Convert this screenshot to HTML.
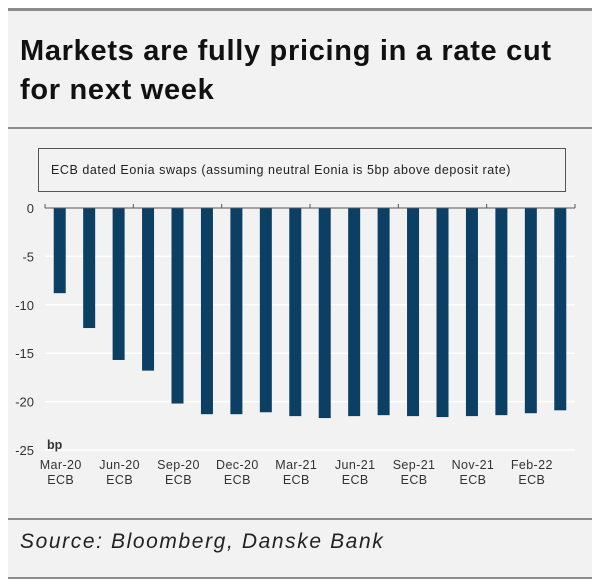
<!DOCTYPE html>
<html><head><meta charset="utf-8"><style>
body{margin:0;background:#fff;width:600px;height:587px;position:relative;font-family:"Liberation Sans",sans-serif;overflow:hidden}
#panel{position:absolute;left:8px;top:8px;width:584px;height:571px;background:#f2f2f2}
.hl{position:absolute;left:8px;width:584px;background:#8c8c8c}
#title{position:absolute;left:20px;top:32px;font-size:29px;line-height:39px;color:#111;font-weight:bold;letter-spacing:0.7px}
#box{position:absolute;left:38px;top:148px;width:528px;height:44px;border:1px solid #555;box-sizing:border-box;font-size:12.5px;line-height:42px;padding-left:12px;color:#222;letter-spacing:0.55px}
#src{position:absolute;left:20px;top:530px;font-size:21px;font-style:italic;color:#222;letter-spacing:1.6px}
</style></head><body>
<div id="panel"></div>
<div class="hl" style="top:8px;height:3px"></div>
<div class="hl" style="top:127px;height:2px"></div>
<div class="hl" style="top:518px;height:2px"></div>
<div class="hl" style="top:577px;height:2px"></div>
<div id="title">Markets are fully pricing in a rate cut<br>for next week</div>
<div id="box">ECB dated Eonia swaps (assuming neutral Eonia is 5bp above deposit rate)</div>
<div id="src">Source: Bloomberg, Danske Bank</div>
<svg id="chart" width="600" height="587" style="position:absolute;left:0;top:0"></svg>
<script>
const categories=["Mar-20","","Jun-20","","Sep-20","","Dec-20","","Mar-21","","Jun-21","","Sep-21","","Nov-21","","Feb-22",""];
const values=[-8.8,-12.4,-15.7,-16.8,-20.2,-21.3,-21.3,-21.1,-21.5,-21.7,-21.5,-21.4,-21.5,-21.6,-21.5,-21.4,-21.2,-20.9];
const yTicks=[0,-5,-10,-15,-20,-25];
const NS="http://www.w3.org/2000/svg",svg=document.getElementById('chart');
const x0=45,x1=575,y0=208,y1=450,band=(x1-x0)/values.length;
const y=v=>y0+(0-v)/25*(y1-y0);
const xc=i=>x0+band*(i+0.5);
function mk(t,a){const e=document.createElementNS(NS,t);for(const k in a)e.setAttribute(k,a[k]);svg.appendChild(e);return e;}
yTicks.forEach(t=>{
 if(t!==0){const g=mk('line',{x1:x0,x2:x1,y1:y(t),y2:y(t),stroke:'#fff','stroke-width':1.5});
 
 }
 const l=mk('text',{x:34,y:y(t)+5,'text-anchor':'end','font-size':13,fill:'#333','font-family':'Liberation Sans'});
 l.textContent=t;
 
 
});
values.forEach((v,i)=>{
 const r=mk('rect',{x:xc(i)-6,y:y0,width:12,height:y(v)-y0,fill:'#0b3f63'});
 
 
 if(categories[i]){
  [categories[i],'ECB'].forEach((s,k)=>{const t=mk('text',{x:xc(i)+1,y:469+k*15,'text-anchor':'middle','font-size':12.5,fill:'#333','font-family':'Liberation Sans','letter-spacing':0.4});
  t.textContent=s;
  
  });
 }
});
const ax=mk('line',{x1:x0,x2:x1,y1:y0,y2:y0,stroke:'#555','stroke-width':1});


for(let i=0;i<=values.length;i+=3){const tk=mk('line',{x1:x0+band*i,x2:x0+band*i,y1:y0-4,y2:y0,stroke:'#555'});

}
const bp=mk('text',{x:47,y:449,'font-size':12.5,fill:'#333','font-weight':'bold','font-family':'Liberation Sans'});
bp.textContent='bp';


</script>
</body></html>
